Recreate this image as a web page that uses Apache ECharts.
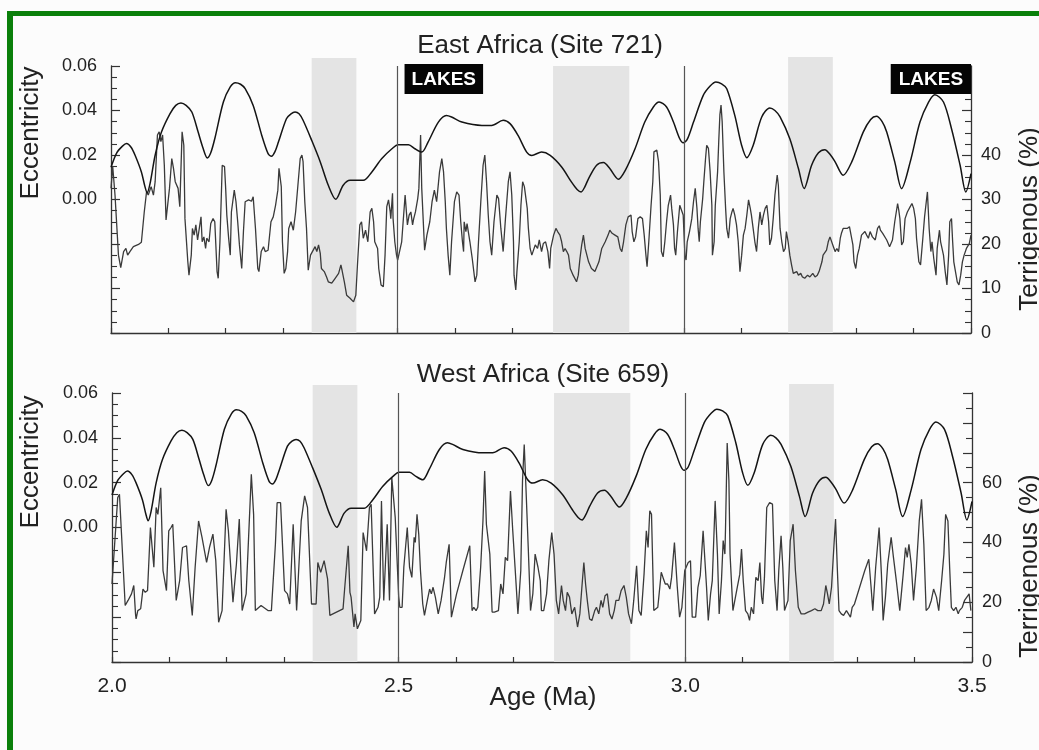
<!DOCTYPE html>
<html>
<head>
<meta charset="utf-8">
<title>Eccentricity and terrigenous dust, East and West Africa</title>
<script src="https://cdn.jsdelivr.net/npm/echarts@6/dist/echarts.min.js"></script>
<style>
  html, body { margin: 0; padding: 0; background: #fcfcfc; }
  #chart { width: 1039px; height: 750px; }
</style>
</head>
<body>
<div id="chart"></div>
<script>
// Orbital eccentricity, [age (Ma), eccentricity]
const eccentricity = [
  [2.000,0.0145],[2.010,0.0210],[2.020,0.0240],[2.027,0.0252],[2.035,0.0235],[2.042,0.0199],[2.053,0.0124],[2.059,0.0060],
  [2.063,0.0030],[2.068,0.0070],[2.077,0.0199],[2.088,0.0303],[2.103,0.0386],[2.113,0.0423],[2.122,0.0434],[2.131,0.0423],
  [2.141,0.0393],[2.152,0.0303],[2.160,0.0235],[2.168,0.0187],[2.174,0.0210],[2.181,0.0273],[2.196,0.0438],[2.208,0.0506],
  [2.217,0.0525],[2.226,0.0518],[2.234,0.0498],[2.248,0.0423],[2.263,0.0288],[2.274,0.0206],[2.280,0.0194],[2.286,0.0215],
  [2.292,0.0258],[2.306,0.0363],[2.314,0.0385],[2.321,0.0393],[2.328,0.0385],[2.335,0.0356],[2.350,0.0266],[2.365,0.0169],
  [2.379,0.0064],[2.392,0.0001],[2.405,0.0064],[2.417,0.0086],[2.440,0.0086],[2.455,0.0124],[2.472,0.0183],[2.490,0.0228],
  [2.501,0.0246],[2.519,0.0246],[2.530,0.0228],[2.542,0.0213],[2.553,0.0258],[2.571,0.0348],[2.585,0.0378],[2.594,0.0371],
  [2.612,0.0348],[2.647,0.0333],[2.664,0.0333],[2.684,0.0356],[2.696,0.0341],[2.710,0.0288],[2.725,0.0213],[2.734,0.0198],
  [2.751,0.0213],[2.766,0.0198],[2.786,0.0146],[2.803,0.0079],[2.813,0.0045],[2.820,0.0034],[2.826,0.0055],[2.833,0.0094],
  [2.847,0.0154],[2.859,0.0166],[2.870,0.0139],[2.885,0.0091],[2.897,0.0131],[2.914,0.0228],[2.931,0.0348],[2.946,0.0416],
  [2.956,0.0438],[2.969,0.0416],[2.981,0.0348],[2.992,0.0273],[2.998,0.0255],[3.005,0.0270],[3.016,0.0348],[3.033,0.0468],
  [3.045,0.0510],[3.055,0.0528],[3.065,0.0520],[3.074,0.0498],[3.088,0.0378],[3.100,0.0243],[3.109,0.0188],[3.120,0.0243],
  [3.135,0.0371],[3.149,0.0411],[3.158,0.0400],[3.167,0.0371],[3.184,0.0273],[3.199,0.0139],[3.209,0.0049],[3.222,0.0154],
  [3.234,0.0210],[3.245,0.0224],[3.255,0.0200],[3.263,0.0169],[3.277,0.0109],[3.292,0.0169],[3.312,0.0303],[3.325,0.0360],
  [3.335,0.0374],[3.345,0.0350],[3.353,0.0303],[3.367,0.0169],[3.379,0.0049],[3.394,0.0169],[3.411,0.0348],[3.426,0.0438],
  [3.437,0.0471],[3.452,0.0438],[3.466,0.0318],[3.481,0.0154],[3.491,0.0034],[3.500,0.0116]
];

// Terrigenous fraction (%), East Africa, ODP Site 721
const site721 = [
  [2.000,32.5],[2.003,37.4],[2.007,31.0],[2.013,17.5],[2.017,14.7],[2.022,18.3],[2.026,19.0],[2.029,17.5],[2.033,18.3],[2.039,19.4],
  [2.048,19.9],[2.053,20.4],[2.058,27.2],[2.062,31.7],[2.065,31.0],[2.070,32.9],[2.074,31.0],[2.077,34.0],[2.081,44.5],[2.084,45.2],
  [2.087,43.0],[2.090,44.5],[2.093,37.7],[2.096,25.4],[2.099,25.0],[2.102,32.5],[2.106,39.2],[2.109,37.0],[2.112,34.0],[2.115,34.4],
  [2.117,32.5],[2.120,28.4],[2.124,45.2],[2.127,42.2],[2.129,25.7],[2.134,16.0],[2.136,13.0],[2.140,17.5],[2.142,23.5],[2.145,22.0],
  [2.148,24.3],[2.151,20.9],[2.154,23.5],[2.157,26.1],[2.159,20.5],[2.162,21.6],[2.165,19.0],[2.167,21.3],[2.171,20.5],[2.174,24.6],
  [2.178,25.7],[2.181,25.0],[2.185,13.8],[2.187,12.3],[2.190,20.5],[2.194,37.7],[2.198,37.4],[2.200,32.5],[2.202,26.5],[2.205,21.6],
  [2.208,17.5],[2.210,27.2],[2.215,32.1],[2.218,29.5],[2.221,25.0],[2.224,19.8],[2.228,14.5],[2.231,22.8],[2.234,29.5],[2.240,29.9],
  [2.245,29.6],[2.248,30.6],[2.252,23.5],[2.256,14.5],[2.258,13.8],[2.262,18.3],[2.266,19.4],[2.269,18.3],[2.274,18.6],[2.279,25.0],
  [2.283,26.1],[2.287,28.7],[2.291,32.1],[2.293,37.0],[2.297,32.9],[2.299,20.5],[2.302,13.4],[2.305,14.5],[2.308,18.3],[2.310,23.5],
  [2.314,25.0],[2.318,23.1],[2.322,27.2],[2.326,33.2],[2.330,39.2],[2.333,40.0],[2.335,38.5],[2.338,29.5],[2.341,23.5],[2.344,14.1],
  [2.348,17.5],[2.351,17.1],[2.356,19.4],[2.359,18.3],[2.362,19.8],[2.365,17.9],[2.367,14.5],[2.372,13.8],[2.376,12.6],[2.379,11.5],
  [2.385,11.2],[2.391,12.3],[2.397,13.4],[2.401,15.3],[2.403,14.1],[2.407,11.5],[2.411,8.5],[2.417,7.8],[2.423,7.0],[2.427,8.5],
  [2.430,15.6],[2.434,24.3],[2.437,25.0],[2.440,21.3],[2.444,23.1],[2.448,20.5],[2.452,27.2],[2.455,28.0],[2.458,25.0],[2.460,20.5],
  [2.465,19.0],[2.467,14.5],[2.471,10.8],[2.475,10.4],[2.478,17.5],[2.481,28.4],[2.484,29.9],[2.487,27.2],[2.488,25.7],[2.491,31.4],
  [2.492,25.7],[2.495,20.5],[2.498,17.5],[2.500,16.4],[2.502,16.8],[2.507,20.5],[2.513,31.0],[2.516,31.4],[2.517,24.3],[2.520,26.5],
  [2.523,27.2],[2.526,24.3],[2.528,25.7],[2.531,27.2],[2.535,30.2],[2.537,32.5],[2.540,44.5],[2.542,32.5],[2.547,18.6],[2.551,22.0],
  [2.556,25.0],[2.560,29.5],[2.564,32.1],[2.568,29.5],[2.573,36.2],[2.577,39.2],[2.580,36.2],[2.583,29.5],[2.585,23.5],[2.588,17.5],
  [2.591,13.0],[2.594,20.5],[2.599,29.5],[2.603,31.7],[2.607,31.0],[2.610,25.0],[2.613,20.5],[2.615,18.3],[2.616,25.0],[2.619,22.8],
  [2.621,24.6],[2.623,24.3],[2.626,20.5],[2.630,16.8],[2.635,11.5],[2.638,13.0],[2.641,20.5],[2.645,29.5],[2.649,37.7],[2.652,40.0],
  [2.655,34.0],[2.658,26.5],[2.661,20.5],[2.664,17.5],[2.668,25.0],[2.673,31.0],[2.676,30.2],[2.680,23.5],[2.684,18.3],[2.688,25.7],
  [2.693,34.0],[2.696,36.2],[2.699,31.0],[2.702,20.5],[2.703,13.0],[2.706,9.7],[2.708,13.8],[2.712,20.5],[2.715,28.7],[2.718,34.0],
  [2.721,32.9],[2.723,32.5],[2.726,28.0],[2.728,23.5],[2.731,19.0],[2.734,17.5],[2.737,17.9],[2.740,19.8],[2.744,19.0],[2.747,20.9],
  [2.751,18.3],[2.754,20.1],[2.758,20.5],[2.762,18.3],[2.765,14.5],[2.767,19.0],[2.772,22.0],[2.776,23.5],[2.779,22.8],[2.783,22.0],
  [2.786,20.5],[2.789,18.3],[2.792,19.0],[2.795,18.3],[2.798,17.5],[2.801,14.5],[2.806,13.0],[2.812,11.5],[2.815,13.0],[2.818,16.8],
  [2.821,19.8],[2.824,22.0],[2.827,19.0],[2.830,17.5],[2.833,16.0],[2.838,14.5],[2.844,13.8],[2.847,13.8],[2.851,16.0],[2.856,19.0],
  [2.862,20.5],[2.867,22.0],[2.870,23.1],[2.874,22.4],[2.879,22.0],[2.884,21.6],[2.888,19.0],[2.891,18.3],[2.894,20.5],[2.898,24.3],
  [2.902,26.1],[2.907,26.5],[2.909,22.8],[2.912,20.5],[2.915,21.6],[2.919,25.7],[2.923,26.1],[2.927,25.7],[2.930,22.0],[2.933,17.5],
  [2.935,14.9],[2.938,20.5],[2.942,28.7],[2.945,34.0],[2.947,40.7],[2.952,41.1],[2.955,38.5],[2.958,31.0],[2.960,18.3],[2.963,17.1],
  [2.966,20.5],[2.969,25.0],[2.972,28.7],[2.976,31.0],[2.978,28.0],[2.981,24.3],[2.983,19.0],[2.985,17.5],[2.988,22.8],[2.992,28.7],
  [2.995,28.7],[2.998,26.5],[3.001,17.5],[3.003,16.4],[3.005,20.5],[3.009,22.8],[3.013,25.7],[3.016,29.5],[3.019,32.5],[3.022,28.0],
  [3.024,23.5],[3.026,20.5],[3.028,25.0],[3.032,30.2],[3.034,34.0],[3.037,39.2],[3.039,42.2],[3.042,41.5],[3.045,36.2],[3.048,28.7],
  [3.049,17.5],[3.052,20.5],[3.054,28.7],[3.058,36.2],[3.060,43.0],[3.062,49.0],[3.064,51.2],[3.066,47.5],[3.069,36.2],[3.072,28.0],
  [3.074,23.5],[3.077,21.3],[3.080,25.7],[3.083,27.2],[3.085,28.0],[3.088,26.5],[3.091,24.3],[3.094,20.5],[3.097,13.8],[3.100,17.5],
  [3.103,22.0],[3.106,23.5],[3.109,26.5],[3.112,29.9],[3.115,28.0],[3.117,26.5],[3.120,23.5],[3.123,20.5],[3.126,18.3],[3.129,23.5],
  [3.132,27.2],[3.135,24.3],[3.138,26.5],[3.141,28.0],[3.144,28.7],[3.147,25.0],[3.149,19.8],[3.152,21.3],[3.155,25.7],[3.158,31.0],
  [3.162,35.5],[3.164,33.2],[3.167,23.5],[3.170,20.5],[3.173,18.3],[3.176,19.0],[3.178,22.8],[3.181,20.5],[3.184,17.5],[3.187,15.3],
  [3.190,13.4],[3.196,13.8],[3.199,13.0],[3.203,13.4],[3.206,12.6],[3.210,12.3],[3.215,13.0],[3.219,12.6],[3.224,13.4],[3.228,12.6],
  [3.232,13.0],[3.235,13.8],[3.240,16.0],[3.242,17.5],[3.245,17.5],[3.248,18.6],[3.251,20.5],[3.254,21.6],[3.257,21.3],[3.260,19.4],
  [3.263,18.3],[3.266,19.0],[3.269,18.3],[3.272,21.3],[3.274,22.4],[3.277,23.5],[3.280,23.1],[3.284,23.5],[3.288,23.9],[3.290,23.5],
  [3.294,19.8],[3.296,16.0],[3.299,14.5],[3.302,17.5],[3.305,19.0],[3.309,22.0],[3.312,21.6],[3.315,22.8],[3.318,22.0],[3.321,21.3],
  [3.324,22.8],[3.328,21.6],[3.333,20.9],[3.337,23.5],[3.340,24.1],[3.342,23.1],[3.346,22.4],[3.349,22.8],[3.353,20.9],[3.358,19.4],
  [3.360,19.8],[3.363,20.9],[3.367,25.0],[3.372,29.1],[3.374,27.6],[3.376,25.7],[3.379,19.8],[3.382,20.5],[3.385,25.7],[3.389,27.2],
  [3.394,28.4],[3.397,29.1],[3.400,28.0],[3.403,25.7],[3.405,21.3],[3.409,16.0],[3.412,15.3],[3.416,21.3],[3.419,26.1],[3.422,29.5],
  [3.424,31.7],[3.427,23.5],[3.430,18.3],[3.432,20.5],[3.435,16.8],[3.439,13.0],[3.441,19.0],[3.445,23.1],[3.447,20.5],[3.452,17.5],
  [3.455,13.8],[3.458,10.8],[3.461,17.5],[3.463,25.0],[3.466,25.7],[3.468,20.5],[3.470,16.0],[3.474,13.0],[3.476,11.5],[3.479,10.8],
  [3.482,13.0],[3.485,16.0],[3.488,17.5],[3.492,19.0],[3.497,20.1],[3.500,22.0]
];

// Terrigenous fraction (%), West Africa, ODP Site 659
const site659 = [
  [2.000,26.1],[2.010,55.0],[2.013,56.1],[2.023,18.9],[2.028,20.6],[2.034,22.8],[2.038,25.6],[2.041,16.1],[2.042,14.4],[2.045,17.2],
  [2.050,17.8],[2.054,24.4],[2.058,23.3],[2.062,23.9],[2.067,45.0],[2.073,31.7],[2.077,51.7],[2.080,49.4],[2.085,58.3],[2.089,30.6],
  [2.095,23.9],[2.099,43.9],[2.103,45.0],[2.106,46.1],[2.112,20.6],[2.118,27.2],[2.123,38.3],[2.130,38.9],[2.134,27.2],[2.140,15.6],
  [2.145,31.7],[2.151,47.2],[2.157,41.7],[2.165,33.3],[2.170,38.3],[2.176,42.8],[2.181,33.9],[2.186,13.3],[2.192,17.2],[2.199,51.1],
  [2.203,43.9],[2.211,20.0],[2.217,32.8],[2.222,47.8],[2.227,17.2],[2.234,22.8],[2.243,62.8],[2.247,49.4],[2.250,17.2],[2.260,18.9],
  [2.272,17.2],[2.278,17.2],[2.285,39.4],[2.288,53.3],[2.294,53.3],[2.301,23.9],[2.306,22.8],[2.310,19.4],[2.316,46.1],[2.322,17.2],
  [2.330,47.2],[2.336,55.6],[2.341,51.7],[2.348,19.4],[2.356,19.4],[2.359,33.3],[2.364,30.0],[2.370,33.9],[2.376,27.8],[2.380,15.6],
  [2.403,17.8],[2.406,25.0],[2.412,38.9],[2.415,23.3],[2.417,21.7],[2.422,11.7],[2.424,16.1],[2.428,11.1],[2.434,13.9],[2.438,43.3],
  [2.444,37.2],[2.449,51.7],[2.452,52.8],[2.458,16.1],[2.464,18.3],[2.467,21.7],[2.470,53.9],[2.474,20.6],[2.480,46.1],[2.484,20.6],
  [2.488,61.7],[2.494,48.3],[2.500,22.0],[2.502,18.3],[2.506,18.3],[2.509,31.7],[2.515,45.0],[2.519,31.7],[2.523,28.3],[2.527,41.7],
  [2.529,40.0],[2.532,49.4],[2.535,42.8],[2.538,30.6],[2.542,19.4],[2.545,15.6],[2.550,20.6],[2.554,24.4],[2.557,22.8],[2.560,25.0],
  [2.564,21.7],[2.569,16.1],[2.574,20.6],[2.580,28.3],[2.583,33.3],[2.588,39.4],[2.592,15.0],[2.601,22.8],[2.612,30.6],[2.624,38.9],
  [2.628,17.2],[2.631,18.3],[2.635,17.2],[2.638,18.3],[2.643,31.7],[2.647,47.2],[2.650,63.9],[2.653,46.1],[2.656,46.1],[2.659,36.1],
  [2.663,16.7],[2.667,16.7],[2.674,17.2],[2.678,26.1],[2.682,22.8],[2.686,35.0],[2.690,33.9],[2.695,57.2],[2.699,43.9],[2.703,31.7],
  [2.708,16.1],[2.713,30.6],[2.716,60.6],[2.719,72.8],[2.722,58.3],[2.726,38.3],[2.730,17.2],[2.734,22.8],[2.738,36.1],[2.743,31.7],
  [2.747,27.2],[2.749,17.2],[2.753,17.2],[2.758,22.8],[2.762,33.9],[2.767,43.3],[2.771,36.1],[2.775,20.6],[2.779,16.1],[2.784,25.6],
  [2.787,20.6],[2.791,17.2],[2.794,23.3],[2.798,21.7],[2.802,16.1],[2.807,18.3],[2.812,11.7],[2.816,16.1],[2.820,26.1],[2.823,33.3],
  [2.826,26.1],[2.829,20.6],[2.833,14.4],[2.837,13.9],[2.842,17.2],[2.845,18.3],[2.849,16.1],[2.853,20.6],[2.856,18.3],[2.860,22.2],
  [2.864,22.8],[2.868,16.1],[2.872,14.4],[2.876,17.2],[2.879,20.6],[2.884,20.6],[2.888,23.9],[2.893,25.6],[2.897,21.7],[2.901,16.1],
  [2.906,12.8],[2.910,20.6],[2.915,32.2],[2.919,17.2],[2.923,15.6],[2.928,29.4],[2.932,43.9],[2.935,38.3],[2.938,50.6],[2.941,49.4],
  [2.945,17.2],[2.952,18.3],[2.958,30.0],[2.961,28.3],[2.965,26.1],[2.969,26.1],[2.973,24.4],[2.976,28.3],[2.981,40.0],[2.986,25.0],
  [2.990,15.0],[2.994,18.3],[2.999,30.6],[3.005,33.3],[3.009,33.9],[3.012,15.0],[3.018,15.0],[3.022,25.0],[3.026,28.9],[3.031,43.9],
  [3.037,25.0],[3.040,13.9],[3.044,22.8],[3.047,27.2],[3.052,53.9],[3.056,36.1],[3.059,16.1],[3.063,27.2],[3.066,40.6],[3.069,36.1],
  [3.070,43.9],[3.073,73.3],[3.076,60.6],[3.078,36.1],[3.083,17.2],[3.090,24.4],[3.095,29.4],[3.098,37.8],[3.101,27.2],[3.105,17.2],
  [3.109,16.1],[3.112,13.9],[3.115,18.3],[3.119,16.1],[3.123,28.3],[3.127,27.2],[3.130,33.3],[3.133,21.7],[3.135,19.4],[3.138,28.3],
  [3.142,51.7],[3.147,53.3],[3.152,52.8],[3.156,27.2],[3.160,17.2],[3.163,30.6],[3.167,42.2],[3.170,31.7],[3.173,17.2],[3.179,20.6],
  [3.183,40.6],[3.188,46.1],[3.192,30.6],[3.197,18.3],[3.202,16.1],[3.208,16.1],[3.214,16.7],[3.220,17.2],[3.226,17.8],[3.231,17.2],
  [3.237,17.2],[3.241,19.4],[3.245,25.6],[3.248,22.8],[3.251,19.4],[3.255,25.0],[3.259,38.3],[3.262,47.8],[3.265,31.7],[3.268,17.2],
  [3.272,16.1],[3.276,15.6],[3.281,17.2],[3.284,17.2],[3.288,15.0],[3.291,18.3],[3.295,19.4],[3.304,25.0],[3.313,30.6],[3.320,34.4],
  [3.324,25.0],[3.327,17.2],[3.332,31.7],[3.338,45.0],[3.342,29.4],[3.345,13.9],[3.349,21.7],[3.353,32.8],[3.359,41.7],[3.363,35.0],
  [3.368,27.2],[3.374,17.2],[3.380,29.4],[3.384,38.3],[3.387,35.0],[3.390,39.4],[3.394,32.8],[3.398,20.6],[3.403,31.7],[3.408,47.2],
  [3.412,54.4],[3.416,39.4],[3.420,17.2],[3.425,18.3],[3.429,20.6],[3.433,24.4],[3.438,21.7],[3.442,17.2],[3.447,27.2],[3.451,36.1],
  [3.454,49.4],[3.458,47.2],[3.461,31.7],[3.464,18.3],[3.468,17.2],[3.472,18.3],[3.476,16.1],[3.478,17.2],[3.483,18.3],[3.487,20.6],
  [3.491,21.7],[3.495,22.8],[3.498,17.2]
];

// Shaded intervals: [start age, end age, upper edge in eccentricity units]
const shadedSpans = [[2.350, 2.428, 0.0636], [2.771, 2.904, 0.0600], [3.181, 3.259, 0.0640]];
// Lake episodes flagged in East Africa
const lakeSpans = [[2.512, 2.649], [3.360, 3.500]];
// Reference ages marked with vertical rules
const dividers = [2.5, 3.0];

// Tick labels shown on each axis
const ageLabels = [2.0, 2.5, 3.0, 3.5];
const eccLabels = [0.00, 0.02, 0.04, 0.06];
const terr721Labels = [0, 10, 20, 30, 40];
const terr659Labels = [0, 20, 40, 60];

const FONT = '"Liberation Sans", Arial, Helvetica, sans-serif';
const INK = '#222';
const AXIS = '#333';
const ECC_MIN = -0.06, ECC_MAX = 0.06;

const hasLabel = (list, v) => list.some(l => Math.abs(l - v) < 1e-6);

function ageAxis(gridIndex, showLabels) {
  return {
    type: 'value', gridIndex, min: 2.0, max: 3.5, interval: 0.1,
    axisLine: { show: true, onZero: false, lineStyle: { color: AXIS, width: 1.3 } },
    axisTick: { show: true, inside: true, length: 5, lineStyle: { color: AXIS, width: 1.2 } },
    splitLine: { show: false },
    axisLabel: {
      show: showLabels, margin: 14, color: INK, fontSize: 21, fontFamily: FONT,
      formatter: v => hasLabel(ageLabels, v) ? v.toFixed(1) : ''
    }
  };
}

function eccAxis(gridIndex) {
  return {
    type: 'value', gridIndex, position: 'left', min: ECC_MIN, max: ECC_MAX, interval: 0.02,
    axisLine: { show: true, onZero: false, lineStyle: { color: AXIS, width: 1.3 } },
    axisTick: { show: true, inside: true, length: 9, lineStyle: { color: AXIS, width: 1.2 } },
    minorTick: { show: true, splitNumber: 4, length: 6, lineStyle: { color: AXIS, width: 1.1 } },
    splitLine: { show: false }, minorSplitLine: { show: false },
    axisLabel: {
      margin: 14, color: INK, fontSize: 18, fontFamily: FONT,
      formatter: v => hasLabel(eccLabels, v) ? v.toFixed(2) : ''
    }
  };
}

function terrAxis(gridIndex, max, interval, minorSplit, labels) {
  return {
    type: 'value', gridIndex, position: 'right', min: 0, max, interval,
    axisLine: { show: true, onZero: false, lineStyle: { color: AXIS, width: 1.3 } },
    axisTick: { show: true, inside: true, length: 9, lineStyle: { color: AXIS, width: 1.2 } },
    minorTick: { show: true, splitNumber: minorSplit, length: 6, lineStyle: { color: AXIS, width: 1.1 } },
    splitLine: { show: false }, minorSplitLine: { show: false },
    axisLabel: {
      margin: 10, color: INK, fontSize: 18, fontFamily: FONT,
      formatter: v => hasLabel(labels, v) ? String(v) : ''
    }
  };
}

function bandSeries(xi, yi) {
  return {
    type: 'custom', xAxisIndex: xi, yAxisIndex: yi, silent: true, clip: false, z: 1,
    encode: { x: [0, 1], y: 2 },
    data: shadedSpans,
    renderItem: (params, api) => {
      const a = api.coord([api.value(0), api.value(2)]);
      const b = api.coord([api.value(1), ECC_MIN]);
      return { type: 'rect', shape: { x: a[0], y: a[1], width: b[0] - a[0], height: b[1] - a[1] },
               style: { fill: '#e4e4e4' } };
    }
  };
}

function lakeSeries(xi, yi) {
  return {
    type: 'custom', xAxisIndex: xi, yAxisIndex: yi, silent: true, clip: false, z: 10,
    encode: { x: [0, 1], y: 2 },
    data: lakeSpans.map(s => [s[0], s[1], ECC_MAX]),
    renderItem: (params, api) => {
      const a = api.coord([api.value(0), api.value(2)]);
      const b = api.coord([api.value(1), api.value(2)]);
      return {
        type: 'group',
        children: [
          { type: 'rect', shape: { x: a[0], y: a[1] - 2, width: b[0] - a[0], height: 30 }, style: { fill: '#050505' } },
          { type: 'text', x: (a[0] + b[0]) / 2, y: a[1] + 13.5,
            style: { text: 'LAKES', fill: '#fff', font: 'bold 19px ' + FONT, align: 'center', verticalAlign: 'middle' } }
        ]
      };
    }
  };
}

function eccSeries(xi, yi) {
  return {
    type: 'line', xAxisIndex: xi, yAxisIndex: yi, data: eccentricity, showSymbol: false, smooth: 0.3,
    lineStyle: { color: '#141414', width: 1.5 }, z: 4, silent: true
  };
}

function terrSeries(xi, yi, data) {
  return {
    type: 'line', xAxisIndex: xi, yAxisIndex: yi, data, showSymbol: false,
    lineStyle: { color: '#3a3a3a', width: 1.3 }, z: 3, silent: true,
    markLine: {
      silent: true, symbol: ['none', 'none'], label: { show: false },
      lineStyle: { color: '#555', width: 1.2, type: 'solid' },
      data: dividers.map(v => ({ xAxis: v }))
    }
  };
}

function vText(text, x, y) {
  return { type: 'text', x, y, rotation: Math.PI / 2,
           style: { text, fill: INK, font: '26px ' + FONT, align: 'center', verticalAlign: 'middle' } };
}
function hText(text, x, y) {
  return { type: 'text', x, y,
           style: { text, fill: INK, font: '26px ' + FONT, align: 'center', verticalAlign: 'middle' } };
}

const chart = echarts.init(document.getElementById('chart'), null, { renderer: 'canvas' });
chart.setOption({
  animation: false,
  backgroundColor: '#fcfcfc',
  grid: [
    { left: 111, top: 66, width: 860, height: 267, containLabel: false, outerBoundsMode: 'none' },
    { left: 112, top: 393, width: 860, height: 269, containLabel: false, outerBoundsMode: 'none' }
  ],
  xAxis: [ageAxis(0, false), ageAxis(1, true)],
  yAxis: [
    eccAxis(0),
    terrAxis(0, 60, 10, 4, terr721Labels),
    eccAxis(1),
    terrAxis(1, 90, 10, 2, terr659Labels)
  ],
  series: [
    bandSeries(0, 0),
    terrSeries(0, 1, site721),
    eccSeries(0, 0),
    lakeSeries(0, 0),
    bandSeries(1, 2),
    terrSeries(1, 3, site659),
    eccSeries(1, 2)
  ],
  graphic: [
    { type: 'rect', shape: { x: 7, y: 11, width: 1032, height: 5 }, style: { fill: '#0a800a' }, silent: true },
    { type: 'rect', shape: { x: 7, y: 11, width: 6, height: 739 }, style: { fill: '#0a800a' }, silent: true },
    hText('East Africa (Site 721)', 540, 46),
    hText('West Africa (Site 659)', 543, 375),
    hText('Age (Ma)', 543, 698),
    vText('Eccentricity', 31, 133),
    vText('Eccentricity', 31, 462),
    vText('Terrigenous (%)', 1030, 219),
    vText('Terrigenous (%)', 1030, 566)
  ]
});
</script>
</body>
</html>
